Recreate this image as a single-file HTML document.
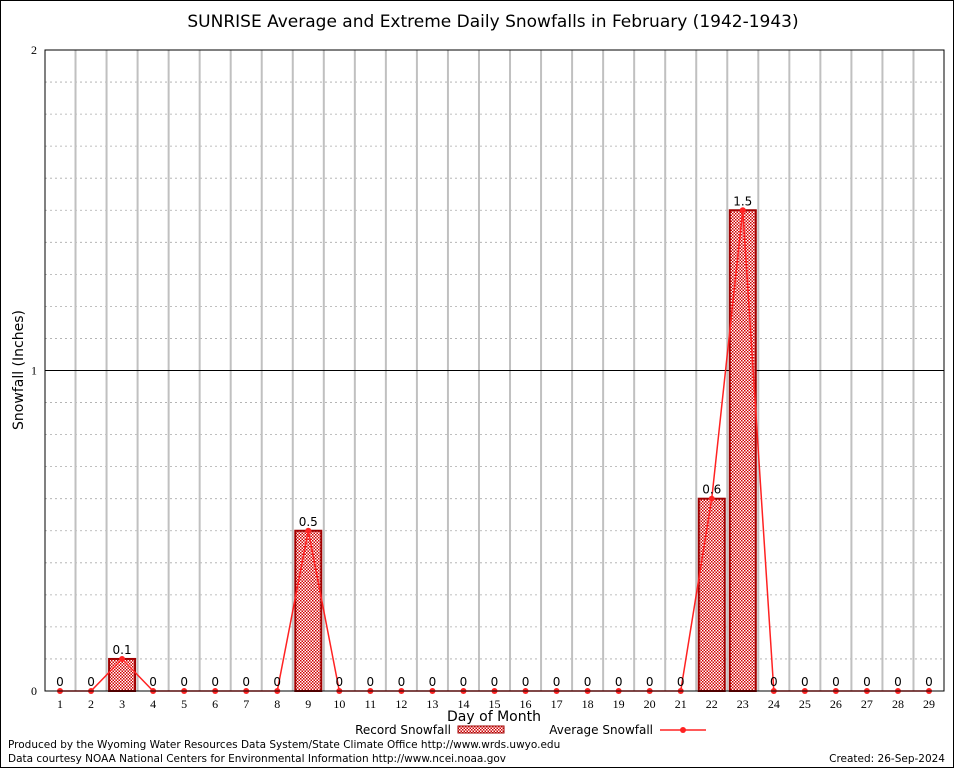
<!DOCTYPE html>
<html><head><meta charset="utf-8"><style>
body{margin:0;background:#fff}
svg{display:block;font-family:"DejaVu Sans",sans-serif}
</style></head><body>
<svg id="c" width="954" height="768" viewBox="0 0 954 768">
<defs><pattern id="chk" width="3" height="3" patternUnits="userSpaceOnUse">
<rect width="3" height="3" fill="#fff"/><rect width="1.5" height="1.5" fill="#d00000"/><rect x="1.5" y="1.5" width="1.5" height="1.5" fill="#d00000"/></pattern></defs>
<rect x="0.5" y="0.5" width="953" height="767" fill="#fff" stroke="#000"/>
<text x="493" y="27" font-size="17" text-anchor="middle">SUNRISE Average and Extreme Daily Snowfalls in February (1942-1943)</text>
<g id="grid"></g><g id="bars"></g><g id="line"></g><g id="labels"></g>
<rect x="45" y="50" width="899" height="641" fill="none" stroke="#000"/>
<text transform="translate(23,370) rotate(-90)" font-size="14" text-anchor="middle">Snowfall (Inches)</text>
<text x="494" y="721" font-size="14" text-anchor="middle">Day of Month</text>
<g><text x="451" y="734" font-size="12" text-anchor="end">Record Snowfall</text>
<rect x="458" y="726" width="46" height="7" fill="url(#chk)" stroke="#a00000"/></g>
<g><text x="653" y="734" font-size="12" text-anchor="end">Average Snowfall</text>
<line x1="660" y1="730" x2="706" y2="730" stroke="#f22" stroke-width="1.5"/><circle cx="683" cy="730" r="3" fill="#f22"/></g>
<text x="8" y="748" font-size="10.5">Produced by the Wyoming Water Resources Data System/State Climate Office http://www.wrds.uwyo.edu</text>
<text x="8" y="762" font-size="10.5">Data courtesy NOAA National Centers for Environmental Information http://www.ncei.noaa.gov</text>
<text x="945" y="762" font-size="10.5" text-anchor="end">Created:  26-Sep-2024</text>
</svg>
<script>
const days=[1,2,3,4,5,6,7,8,9,10,11,12,13,14,15,16,17,18,19,20,21,22,23,24,25,26,27,28,29];
const recordVals=[0,0,0.1,0,0,0,0,0,0.5,0,0,0,0,0,0,0,0,0,0,0,0,0.6,1.5,0,0,0,0,0,0];
const avgVals=[0,0,0.1,0,0,0,0,0,0.5,0,0,0,0,0,0,0,0,0,0,0,0,0.6,1.5,0,0,0,0,0,0];
const yTicks=[0,1,2];
const NS="http://www.w3.org/2000/svg";
const x=d=>60+(d-1)*(929-60)/28;
const y=v=>691-v*320.5;
function mk(t,a,p){const e=document.createElementNS(NS,t);for(const k in a)e.setAttribute(k,a[k]);document.getElementById(p).appendChild(e);return e;}
for(let i=1;i<20;i++){if(i%10===0)continue;const g=mk('line',{x1:45,x2:944,y1:y(i/10),y2:y(i/10),stroke:'#aaa','stroke-dasharray':'2,3','stroke-width':0.8},'grid');

}
for(let d=1;d<29;d++){const g=mk('line',{x1:x(d+0.5),x2:x(d+0.5),y1:50,y2:691,stroke:'#c0c0c0','stroke-width':2},'grid');

}
yTicks.forEach(t=>{const l=mk('line',{x1:45,x2:944,y1:y(t),y2:y(t),stroke:'#000','stroke-width':t===1?1:0},'grid');


const tx=mk('text',{x:37,y:y(t)+4,'font-size':12,'text-anchor':'end','font-family':'Liberation Serif, serif'},'labels');tx.textContent=t;

});
days.forEach((d,i)=>{
const tx=mk('text',{x:x(d),y:708,'font-size':12,'text-anchor':'middle','font-family':'Liberation Serif, serif'},'labels');tx.textContent=d;


const v=recordVals[i];
if(v>0){const b=mk('rect',{x:x(d)-13,y:y(v),width:26,height:y(0)-y(v),fill:'url(#chk)',stroke:'#a00000','stroke-width':2},'bars');

}
const lb=mk('text',{x:x(d),y:y(v)-5,'font-size':12,'text-anchor':'middle'},'labels');lb.textContent=v;


});
const pl=mk('polyline',{points:days.map((d,i)=>x(d)+','+y(avgVals[i])).join(' '),fill:'none',stroke:'#f22','stroke-width':1.5},'line');


days.forEach((d,i)=>{const c=mk('circle',{cx:x(d),cy:y(avgVals[i]),r:3,fill:'#f22'},'line');

});
</script>
</body></html>
